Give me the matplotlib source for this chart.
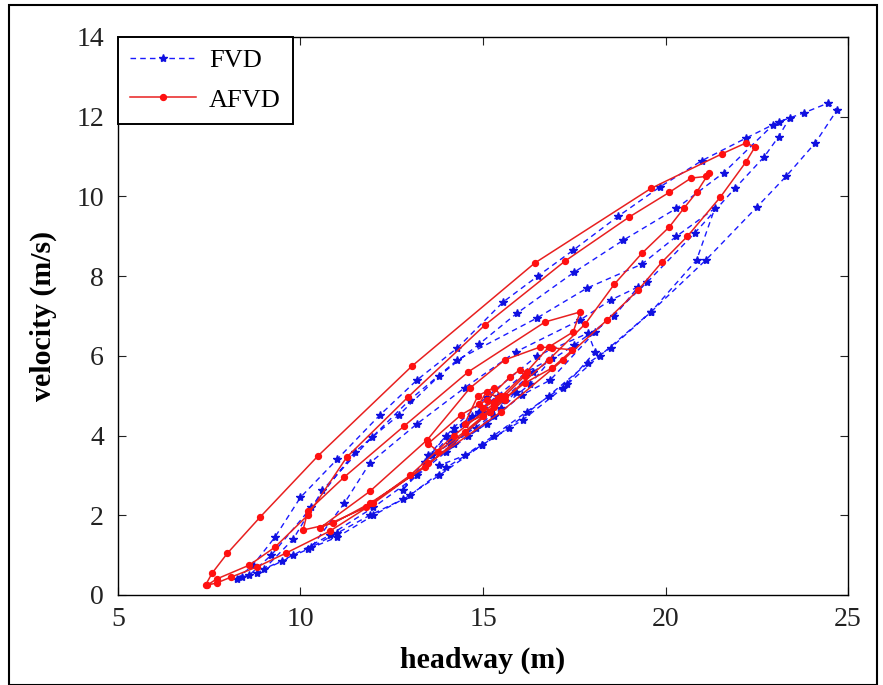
import matplotlib
matplotlib.use("Agg")
import matplotlib.pyplot as plt
from matplotlib.patches import Rectangle

# FVD trajectory (headway m, velocity m/s)
fvd_h = [8.25, 8.7, 9.3, 10.0, 11.0, 12.18, 13.2, 14.3, 15.55, 16.5, 17.47, 18.7, 19.85, 21.0, 22.2, 23.1, 23.8, 24.45,
         24.7, 24.1, 23.3, 22.5, 21.1, 19.6, 18.5, 17.88, 16.8, 15.7, 14.97, 14.0, 13.0, 12.0, 11.0, 10.2, 9.5, 8.8, 8.4,
         8.6, 9.2, 10.3, 11.5, 12.7, 13.8, 14.9, 15.93, 17.5, 18.84, 20.3, 21.6, 22.95, 23.4,
         23.1, 22.7, 21.9, 20.8, 19.5, 18.07, 16.84, 16.07, 15.1, 14.0, 13.2, 12.0, 10.8, 9.8, 9.0,
         9.8, 10.6, 11.96, 13.0, 14.3, 16.48, 17.85, 19.35, 20.3, 21.35,
         20.85, 19.6, 18.2, 17.2, 16.1, 14.97, 13.8, 12.8, 11.9, 11.0, 10.3,
         11.2, 11.9, 13.2, 14.5, 15.9, 17.66, 18.5, 19.25,
         18.6, 17.5, 16.37, 15.2, 14.2, 13.47, 12.8,
         13.5, 14.2, 15.1, 16.48, 17.88, 18.07,
         17.3, 16.2, 15.3, 14.5, 13.8, 13.4,
         14.0, 14.7, 15.4, 16.2, 16.9,
         16.3, 15.5, 14.8, 14.1, 13.6,
         14.2, 14.9, 15.5, 15.9, 15.3, 14.6, 14.1, 14.5, 15.0]
fvd_v = [0.40, 0.75, 1.45, 2.45, 3.4, 4.52, 5.4, 6.2, 7.35, 8.0, 8.65, 9.5, 10.24, 10.9, 11.46, 11.87, 12.1, 12.34,
         12.17, 11.34, 10.5, 9.73, 8.4, 7.1, 6.2, 5.82, 5.0, 4.19, 3.76, 3.2, 2.5, 2.0, 1.45, 1.15, 0.85, 0.55, 0.45,
         0.5, 1.0, 2.2, 3.6, 4.52, 5.5, 6.3, 7.07, 8.1, 8.9, 9.7, 10.6, 11.8, 11.97,
         11.5, 10.99, 10.2, 9.08, 7.85, 6.6, 5.39, 5.02, 4.3, 3.6, 3.0, 2.2, 1.5, 1.0, 0.65,
         1.4, 2.63, 3.96, 4.9, 5.9, 6.95, 7.7, 8.3, 9.0, 9.7,
         8.4, 7.1, 6.0, 5.2, 4.4, 3.76, 3.0, 2.4, 2.0, 1.55, 1.2,
         2.3, 3.31, 4.3, 5.2, 6.1, 6.9, 7.4, 7.73,
         7.0, 6.27, 5.6, 4.6, 3.8, 3.3, 2.63,
         3.5, 4.2, 4.97, 6.0, 6.57, 6.1,
         5.3, 4.6, 4.0, 3.5, 3.25, 3.34,
         4.0, 4.5, 5.0, 5.6, 5.95,
         5.3, 4.7, 4.2, 3.8, 3.5,
         4.1, 4.6, 4.9, 5.1, 4.5, 4.0, 3.9, 4.3, 4.6]

# AFVD trajectory
afvd_h = [7.40, 7.58, 8.0, 8.9, 10.48, 13.05, 16.42, 19.6, 21.55, 22.2, 22.45,
          22.2, 21.5, 20.6, 19.9, 19.25, 18.4, 17.2, 15.5, 13.5, 12.0, 10.8, 9.6, 8.8, 8.1, 7.7, 7.45,
          7.7, 8.6, 9.3, 10.2, 11.27, 12.95, 15.05, 17.25, 19.0, 20.1, 20.7, 21.1, 21.2,
          20.85, 20.5, 20.1, 19.35, 18.6, 17.8, 16.8, 15.2, 13.4, 11.9, 10.9, 10.07,
          10.2, 11.2, 12.84, 14.6, 16.7, 17.66,
          17.47, 16.8, 16.2, 15.3, 14.2, 13.0, 11.8, 10.53,
          11.9, 13.47, 14.64, 15.6, 16.56, 16.9, 17.45,
          16.9, 16.15, 15.3, 14.5, 13.77, 13.5,
          14.4, 15.1, 15.74, 16.0, 16.15,
          15.6, 15.0, 14.5, 14.86,
          15.3, 15.6, 15.2, 14.9, 15.1, 15.4, 15.0, 15.3, 15.5]
afvd_v = [0.25, 0.55, 1.05, 1.96, 3.49, 5.74, 8.33, 10.2, 11.07, 11.34, 11.24,
          10.86, 9.98, 9.0, 8.35, 7.65, 6.9, 5.9, 4.6, 3.3, 2.3, 1.6, 1.05, 0.7, 0.45, 0.3, 0.25,
          0.4, 0.75, 1.2, 2.0, 3.46, 4.97, 6.77, 8.38, 9.48, 10.1, 10.46, 10.5, 10.6,
          10.1, 9.7, 9.23, 8.57, 7.8, 6.8, 5.9, 4.6, 3.2, 2.3, 1.8, 1.63,
          2.1, 2.96, 4.24, 5.6, 6.85, 7.1,
          6.6, 6.22, 5.6, 4.8, 4.0, 3.0, 2.2, 1.68,
          2.6, 3.89, 5.19, 5.9, 6.22, 6.2, 6.15,
          5.7, 5.32, 4.72, 4.1, 3.6, 3.8,
          4.52, 4.89, 5.47, 5.64, 5.5,
          5.0, 4.5, 4.3, 5.0,
          5.2, 4.9, 4.6, 4.8, 5.1, 4.95, 4.7, 4.85, 5.0]

xticks = [5, 10, 15, 20, 25]
yticks = [0, 2, 4, 6, 8, 10, 12, 14]

plt.rcParams['font.family'] = ['Liberation Serif', 'DejaVu Serif']

fig = plt.figure(figsize=(8.83, 6.85), dpi=100)
ax = fig.add_axes([0.1336, 0.1314, 0.8268, 0.8146])

ax.plot(fvd_h, fvd_v, linestyle='--', color='#1a1aff', linewidth=1.0, marker='*', markersize=6,
        markerfacecolor='#1010e0', markeredgecolor='#1010e0', dashes=(4, 3), label='FVD')
ax.plot(afvd_h, afvd_v, linestyle='-', color='#e82020', linewidth=1.1, marker='.', markersize=8.5,
        markerfacecolor='#ff1010', markeredgecolor='#ff1010', label='AFVD')

ax.set_xlim(5, 25)
ax.set_ylim(0, 14)
ax.set_xticks(xticks)
ax.set_yticks(yticks)
ax.tick_params(direction='in', length=6, width=0.8, labelsize=20, top=True, right=True,
               labeltop=False, labelright=False, pad=9, colors='#222222')
ax.tick_params(axis='y', pad=10)
for s in ax.spines.values():
    s.set_linewidth(1.0)

ax.set_xlabel('headway (m)', fontsize=21.5, fontweight='bold', labelpad=10)
ax.set_ylabel('velocity (m/s)', fontsize=21.5, fontweight='bold', labelpad=14)

leg = ax.legend(loc='upper left', fontsize=19, frameon=True, fancybox=False, borderaxespad=0.0,
                handlelength=2.5, borderpad=0.45, labelspacing=0.6, handletextpad=0.5)
leg.get_frame().set_edgecolor('black')
leg.get_frame().set_linewidth(1.4)
leg.get_frame().set_alpha(1.0)

fig.patches.append(Rectangle((9/883, 0.0), (877-9)/883, (685-5)/685, transform=fig.transFigure,
                             fill=False, edgecolor='black', linewidth=1.5))

fig.savefig('out.png', dpi=100)
